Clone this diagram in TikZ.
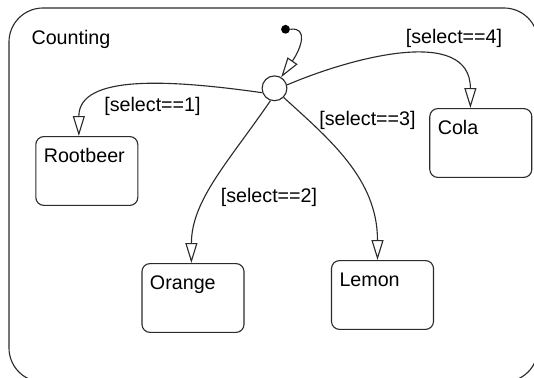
\documentclass[tikz,border=0pt]{standalone}
\usepackage{fontspec}
\setmainfont{Liberation Sans}
\usetikzlibrary{arrows.meta}
\definecolor{cline}{HTML}{2B2B2B}
\tikzset{
  every picture/.style={line width=0.8pt, font=\fontsize{14}{16}\selectfont},
  state/.style={draw=cline, rounded corners=0.2cm, minimum width=2.55cm, minimum height=1.72cm,
    align=left, text width=2.15cm, inner xsep=0.2cm, inner ysep=0.29cm, text height=0.35cm, text depth=0.79cm},
  trans/.style={draw=cline, -{Triangle[open, length=0.5cm, width=0.3cm]}},
  guard/.style={inner sep=0pt},
}

\begin{document}
\begin{tikzpicture}[
  super/.style={draw=cline, rounded corners=0.85cm, inner sep=0pt},
  junction/.style={circle, draw=cline, minimum size=0.62cm, inner sep=0pt},
  dflt/.style={circle, fill=black, minimum size=0.22cm, inner sep=0pt}]
  \useasboundingbox (0,0) rectangle (13.35,9.45);
  \clip (0,0) rectangle (13.35,9.45);
  % superstate
  \node[super, minimum width=13.225cm, minimum height=9.35cm] (counting) at (6.8375,4.575) {};
  \node[anchor=base west, inner sep=0pt] (countlbl) at (0.775,8.325) {Counting};
  % junction and default transition
  \node[junction] (junc) at (6.8625,7.2425) {};
  \node[dflt] (init) at (7.1375,8.7175) {};
  % states
  \node[state] (root) at (2.171,5.175) {Rootbeer};
  \node[state] (orange) at (4.825,2.0) {Orange};
  \node[state] (lemon) at (9.5625,2.075) {Lemon};
  \node[state] (cola) at (12.02,5.875) {Cola};
  \draw[trans] (init.east) .. controls +(0.45,0.06) and +(0.5,0.72) .. (junc.59);
  \draw[trans] (junc.200) .. controls +(-2.3,0.325) and +(0,1.55) .. ([xshift=-0.2cm]root.north);
  \draw[trans] (junc.252) .. controls +(-1.025,-1.5) and +(0,1.575) .. ([xshift=-0.04cm]orange.north);
  \draw[trans] (junc.315) .. controls +(1.15,-1.05) and +(0,2.025) .. ([xshift=-0.125cm]lemon.north);
  \draw[trans] (junc.15) .. controls +(1.575,0.675) and +(0,2.075) .. ([xshift=-0.26cm]cola.north);
  % guards
  \node[guard] (g1) at (3.8125,6.7875) {[select==1]};
  \node[guard] (g2) at (6.725,4.5125) {[select==2]};
  \node[guard] (g3) at (9.1875,6.4375) {[select==3]};
  \node[guard] (g4) at (11.35,8.5) {[select==4]};
\end{tikzpicture}
\end{document}
